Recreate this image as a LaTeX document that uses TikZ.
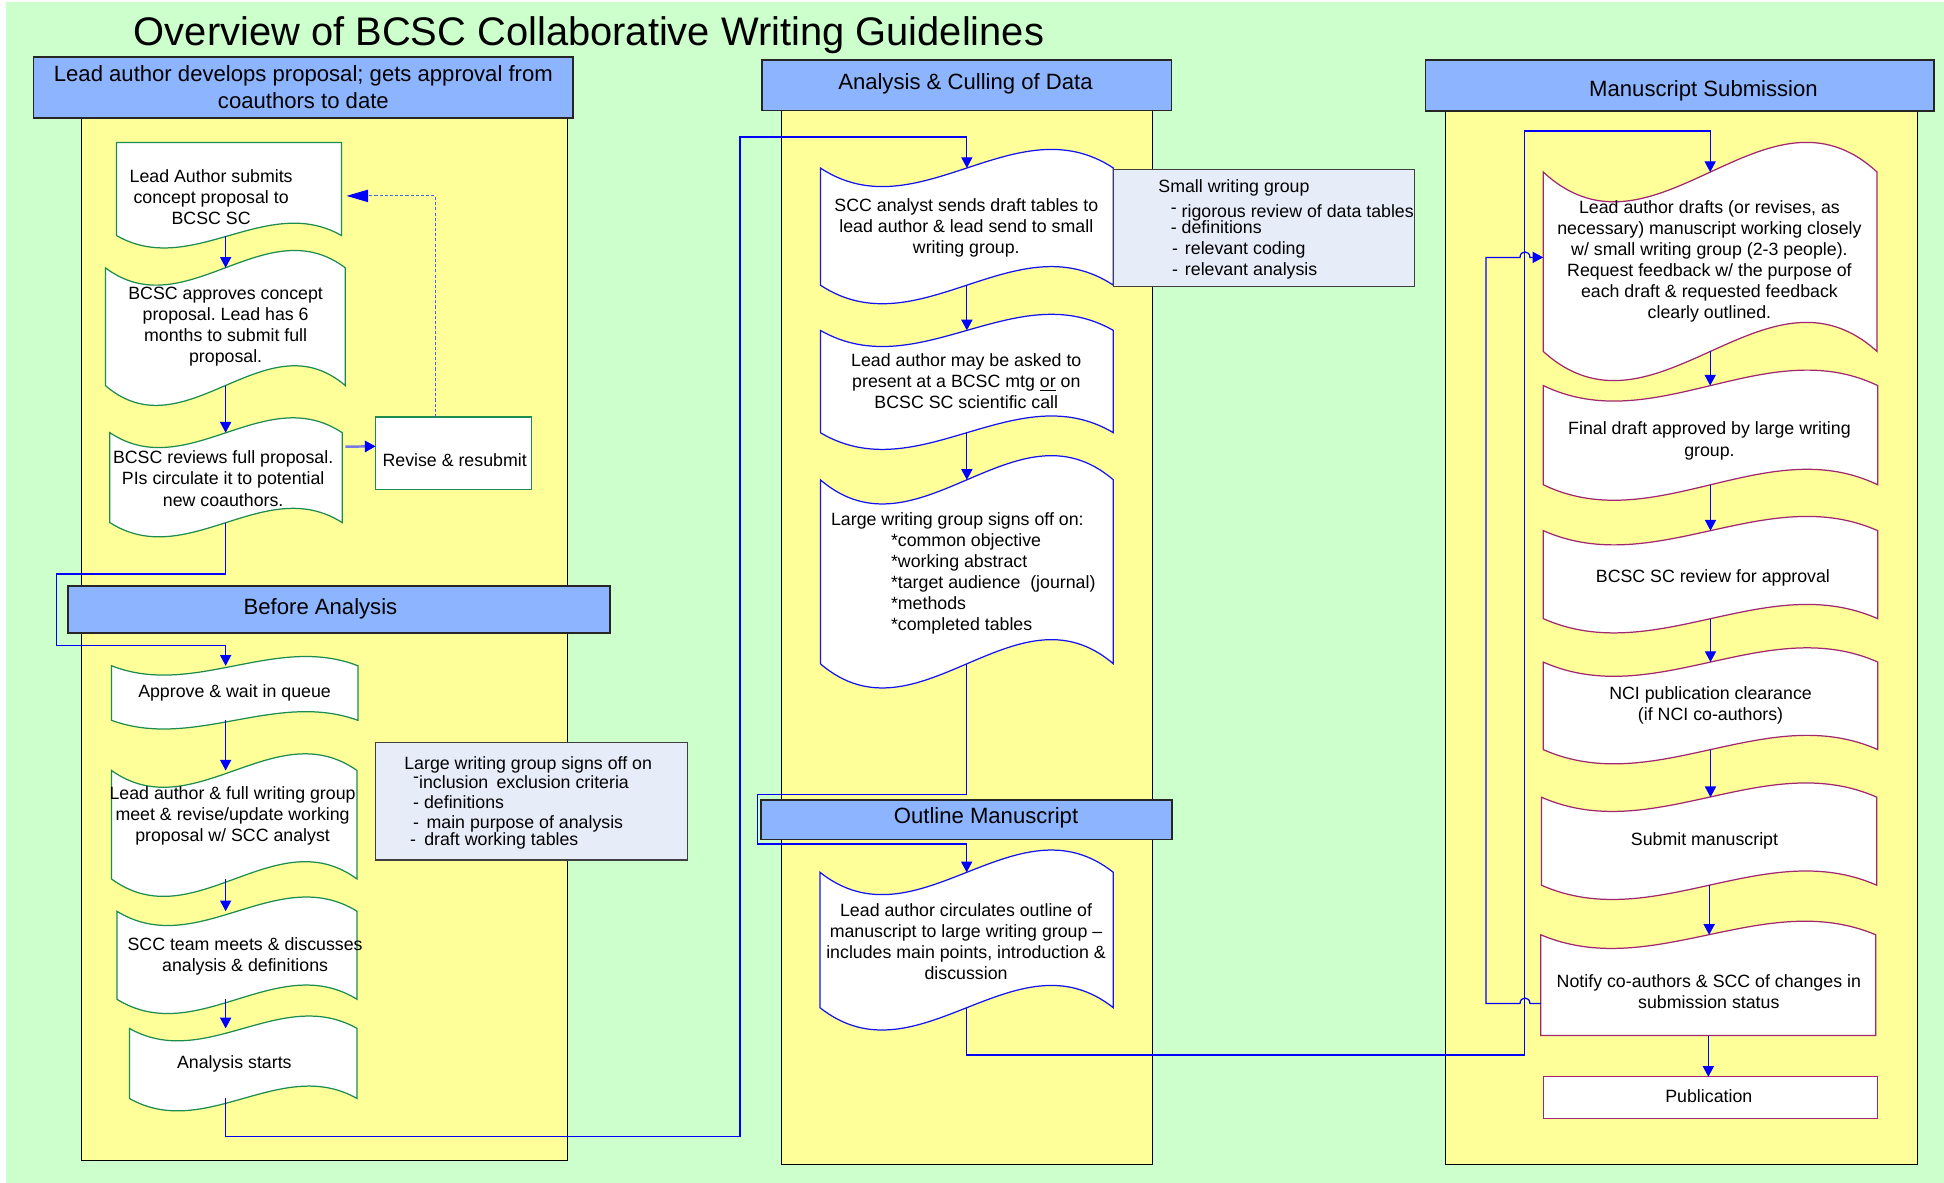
\documentclass[tikz,border=0pt]{standalone}
\usepackage{fontspec}
\setmainfont{Liberation Sans}
\usetikzlibrary{arrows.meta,fit,calc}
\frenchspacing
\definecolor{bggreen}{RGB}{204,255,204}
\definecolor{laneyellow}{RGB}{255,255,153}
\definecolor{hdrblue}{RGB}{140,180,255}
\definecolor{notebg}{RGB}{230,236,248}
\definecolor{ogreen}{RGB}{30,140,80}
\definecolor{omaroon}{RGB}{160,40,110}
\definecolor{oblue}{RGB}{20,20,240}
\definecolor{cblue}{RGB}{0,0,255}
\definecolor{lavblue}{RGB}{120,120,230}
\definecolor{dashblue}{RGB}{70,100,230}
% #1 name, #2 x1, #3 x2, #4 ytop, #5 ybot, #6 amp top, #7 amp bottom, #8 style
\newcommand{\wavy}[8]{%
  \draw[#8] (#2,#4) .. controls ({#2+(#3-#2)/3},{#4+3.46*#6}) and ({#2+2*(#3-#2)/3},{#4-3.46*#6}) .. (#3,#4)
    -- (#3,#5) .. controls ({#2+2*(#3-#2)/3},{#5-3.46*#7}) and ({#2+(#3-#2)/3},{#5+3.46*#7}) .. (#2,#5) -- cycle;
  \node[fit={(#2,#4) (#3,#5)}, inner sep=0pt, outer sep=0pt] (#1) {};
}
\begin{document}
\begin{tikzpicture}[x=0.6pt,y=-0.6pt,
  lane/.style={draw=black, fill=laneyellow, line width=0.6pt},
  hdr/.style={draw=black!85, fill=hdrblue, line width=0.8pt, inner sep=0pt, outer sep=0pt},
  note/.style={draw=black!75, fill=notebg, line width=0.6pt, inner sep=0pt, outer sep=0pt},
  s1/.style={draw=ogreen, fill=white, line width=0.6pt, inner sep=0pt, outer sep=0pt},
  s2/.style={draw=oblue, fill=white, line width=0.6pt, inner sep=0pt, outer sep=0pt},
  s3/.style={draw=omaroon, fill=white, line width=0.6pt, inner sep=0pt, outer sep=0pt},
  txt/.style={font=\fontsize{8.6}{10.2}\selectfont, align=center, inner sep=0pt},
  txtl/.style={font=\fontsize{8.6}{10.2}\selectfont, align=left, inner sep=0pt, anchor=north west},
  htxt/.style={font=\fontsize{10.7}{13.2}\selectfont, align=center, inner sep=0pt},
  conn/.style={draw=cblue, line width=0.6pt},
  arr/.style={conn, -{Triangle[length=5.2pt,width=5.4pt]}}
]
\useasboundingbox (0,0) rectangle (1568,954);
\fill[white] (0,0) rectangle (1568,954);
\fill[bggreen] (5,1.5) rectangle (1568,954);

% title
\node[anchor=base west, font=\fontsize{19.3}{23}\selectfont, inner sep=0pt] (title) at (107.7,36.5) {Overview of BCSC Collaborative Writing Guidelines};

% lanes
\draw[lane] (66,95) rectangle (458,936);
\draw[lane] (630.5,89) rectangle (929.5,939);
\draw[lane] (1165.8,89.4) rectangle (1546.5,939);

% headers
\node[hdr, fit={(27,46) (462,95)}] (h1) {};
\node[htxt] (h1t) at (244.7,70.5) {Lead author develops proposal; gets approval from\\coauthors to date};
\node[hdr, fit={(614.6,48.6) (945,89)}] (h2) {};
\node[htxt] (h2t) at (778.7,67.2) {Analysis \& Culling of Data};
\node[hdr, fit={(1149.8,48.6) (1560,89.4)}] (h3) {};
\node[htxt] (h3t) at (1374,73) {Manuscript Submission};
\node[hdr, fit={(55,472.5) (492,510.4)}] (h5) {};
\node[htxt] (h5t) at (258.5,490.8) {Before Analysis};
\node[hdr, fit={(613.8,645.5) (945.1,677)}] (h4) {};
\node[htxt] (h4t) at (795.3,659.5) {Outline Manuscript};

% lane 1 shapes
\wavy{a1}{94}{275.5}{115}{190}{0}{10}{s1}
\node[txt] (a1t) at (170.3,159.2) {Lead Author submits\\concept proposal to\\BCSC SC};
\wavy{a2}{85}{278.5}{216}{311}{14}{16}{s1}
\node[txt] (a2t) at (182,263.7) {BCSC approves concept\\proposal. Lead has 6\\months to submit full\\proposal.};
\wavy{a3}{88.6}{276}{349}{421.5}{12}{11.5}{s1}
\node[txt] (a3t) at (180,386) {BCSC reviews full proposal.\\PIs circulate it to potential\\new coauthors.};
\node[s1, fit={(303,336.4) (428.7,394.6)}] (rev) {};
\node[txt] (revt) at (366.7,371) {Revise \& resubmit};

\wavy{b1}{90}{288.7}{537}{581}{7.5}{7}{s1}
\node[txt] (b1t) at (189.2,559) {Approve \& wait in queue};
\wavy{b2}{90}{288}{621.5}{709}{13.5}{14}{s1}
\node[txt] (b2t) at (187.6,657.8) {Lead author \& full writing group\\meet \& revise/update working\\proposal w/ SCC analyst};
\wavy{b3}{94.3}{288}{735}{806}{11.5}{11.5}{s1}
\node[txt] (b3t) at (197.7,771.7) {SCC team meets \& discusses\\analysis \& definitions};
\wavy{b4}{104.4}{288}{829.5}{886}{10}{10}{s1}
\node[txt] (b4t) at (189,858) {Analysis starts};

\node[note, fit={(303.1,599.1) (554.4,693.7)}] (nb1) {};
\node[txtl, font=\fontsize{8.6}{9.24}\selectfont] (nb1t) at (325.8,609.8) {Large writing group signs off on\\
\hspace*{4.3pt}\raisebox{3pt}{-}inclusion\hspace{4pt}exclusion criteria\\[0.4pt]
\hspace*{4.3pt}- definitions\\[0.7pt]
\hspace*{4.3pt}-\hspace{3.6pt}main purpose of analysis\\[-1.1pt]
\hspace*{2.8pt}-\hspace{4pt}draft working tables};

% lane 2 shapes
\wavy{c1}{661.7}{898}{135.5}{230}{15}{15}{s2}
\node[txt] (c1t) at (779.4,183.6) {SCC analyst sends draft tables to\\lead author \& lead send to small\\writing group.};
\node[note, fit={(898,136.8) (1141,230.9)}] (nsw) {};
\node[txtl] (nswt) at (934,144.6) {Small writing group\\[2pt]
\hspace*{6pt}\raisebox{2pt}{-} rigorous review of data tables\\[-2.5pt]
\hspace*{6pt}- definitions\\[-0.2pt]
\hspace*{6.6pt}-\hspace{3.4pt}relevant coding\\[0.2pt]
\hspace*{6.6pt}-\hspace{3.4pt}relevant analysis};
\wavy{c2}{661.7}{898}{266.5}{349}{13}{13.5}{s2}
\node[txt] (c2t) at (779.4,307.3) {Lead author may be asked to\\present at a BCSC mtg \underline{or} on\\BCSC SC scientific call};
\wavy{c3}{661.7}{898}{387}{535.4}{19.5}{19.5}{s2}
\node[txtl] (c3t) at (670,412.9) {Large writing group signs off on:\\
\hspace*{29pt}*common objective\\
\hspace*{29pt}*working abstract\\
\hspace*{29pt}*target audience\ \ (journal)\\
\hspace*{29pt}*methods\\
\hspace*{29pt}*completed tables};
\wavy{d1}{661.4}{898}{703.6}{812.8}{18}{18}{s2}
\node[txt] (d1t) at (779.2,759.4) {Lead author circulates outline of\\manuscript to large writing group \textendash\\includes main points, introduction \&\\discussion};

% lane 3 shapes
\wavy{e1}{1244.8}{1514}{138.8}{283.5}{24}{23.5}{s3}
\node[txt] (e1t) at (1378.8,210.8) {Lead author drafts (or revises, as\\necessary) manuscript working closely\\w/ small writing group (2-3 people).\\Request feedback w/ the purpose of\\each draft \& requested feedback\\clearly outlined.};
\wavy{e2}{1244.8}{1514.5}{311}{391}{12.5}{12.5}{s3}
\node[txt] (e2t) at (1378.8,355.6) {Final draft approved by large writing\\group.};
\wavy{e3}{1244.8}{1514.5}{428}{499}{11.5}{11.5}{s3}
\node[txt] (e3t) at (1381.6,466) {BCSC SC review for approval};
\wavy{e4}{1244.7}{1514.6}{534}{604.6}{11.5}{11.5}{s3}
\node[txt] (e4t) at (1379.7,569.3) {NCI publication clearance\\(if NCI co-authors)};
\wavy{e5}{1243.3}{1513.8}{643}{714}{11.5}{11.5}{s3}
\node[txt] (e5t) at (1374.8,678.2) {Submit manuscript};
\wavy{e6}{1242.8}{1513}{754}{835.2}{11}{0}{s3}
\node[txt] (e6t) at (1378.3,799.8) {Notify co-authors \& SCC of changes in\\submission status};
\node[s3, fit={(1244.7,868.5) (1514.6,902)}] (e7) {};
\node[txt] (e7t) at (1378.3,883.8) {Publication};

% connectors lane 1
\coordinate (ax1) at (182,0);
\draw[arr] (a1.south -| ax1) -- (a2.north -| ax1);
\draw[arr] (a2.south -| ax1) -- (a3.north -| ax1);
\draw[draw=lavblue, line width=1.2pt, -{Triangle[length=5.2pt,width=5.4pt,color=cblue]}] ($(a3.east)+(2.5,-25)$) -- ($(rev.west)+(0,-5.5)$);
\draw[draw=dashblue, line width=0.5pt, dash pattern=on 1.5pt off 1pt, -{Triangle[length=10.5pt,width=6pt,color=cblue]}] ($(rev.north)+(-14.7,0)$) |- ($(a1.east)+(4,5.5)$);
\draw[arr] (a3.south -| ax1) -- (182,463) -| (45.7,520.6) -| (b1.north -| ax1);
\draw[arr] (b1.south -| ax1) -- (b2.north -| ax1);
\draw[arr] (b2.south -| ax1) -- (b3.north -| ax1);
\draw[arr] (b3.south -| ax1) -- (b4.north -| ax1);
\draw[arr] (b4.south -| ax1) -- (182,916.5) -| (596.8,110.4) -| (c1.north);

% connectors lane 2
\draw[arr] (c1.south) -- (c2.north);
\draw[arr] (c2.south) -- (c3.north);
\draw[arr] (c3.south) -- (779.85,640.7) -| (611.1,680.8) -| (d1.north);
\draw[arr] (d1.south) |- (1229.9,851) -- (1229.9,105.7) -| (e1.north);

% connectors lane 3
\draw[arr] (e1.south) -- (e1.south |- e2.north);
\draw[arr] (e2.south) -- (e2.south |- e3.north);
\draw[arr] (e3.south) -- (e3.south |- e4.north);
\draw[arr] (e4.south) -- (e4.south |- e5.north);
\draw[arr] (e5.south) -- (e5.south |- e6.north);
\draw[arr] (e6.south) -- (e6.south |- e7.north);
\draw[arr] ($(e6.west)+(0,14.8)$) -- (1234,809.4) .. controls (1234,803.5) and (1226,803.5) .. (1226,809.4)
  -- (1198.6,809.4) -- (1198.6,207.6) -- (1226,207.6) .. controls (1226,201.7) and (1234,201.7) .. (1234,207.6)
  -- ($(e1.west)+(0,-3.55)$);
\end{tikzpicture}
\end{document}
